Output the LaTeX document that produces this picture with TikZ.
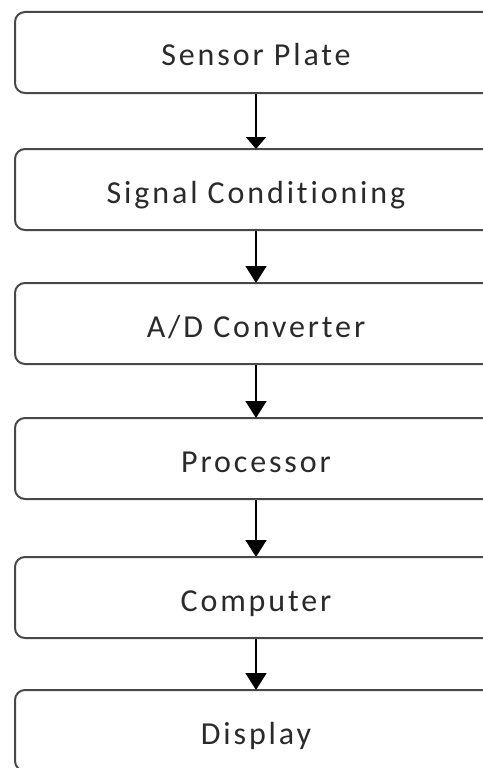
\documentclass[tikz,border=0pt]{standalone}
\usepackage{fontspec}
\setmainfont[LetterSpace=9,Ligatures=NoCommon]{Carlito}
\usetikzlibrary{arrows.meta}
\definecolor{boxline}{HTML}{484848}
\definecolor{txt}{HTML}{2A2A2A}
\tikzset{
  stage/.style={draw=boxline, line width=2pt, rounded corners=10pt,
    minimum width=482pt, minimum height=81pt, inner sep=0pt,
    text height=27pt, text depth=0pt, text=txt,
    font=\fontsize{32pt}{34pt}\selectfont},
  flow/.style={line width=1.6pt, black,
    -{Triangle[width=21pt,length=17pt]}, shorten >=-1pt}
}
\begin{document}
\begin{tikzpicture}[x=1pt,y=-1pt]
\useasboundingbox (0,0) rectangle (482,768);
\node[stage] (s1) at (256,52.5) {Sensor Plate};
\node[stage] (s2) at (256,189.5) {Signal Conditioning};
\node[stage] (s3) at (256,323.5) {A/D Converter};
\node[stage] (s4) at (256,458.5) {Processor};
\node[stage] (s5) at (256,597.5) {Computer};
\node[stage] (s6) at (256,730.5) {Display};
\draw[flow, -{Triangle[width=20pt,length=12pt]}] (s1.south) -- (s2.north);
\draw[flow] (s2.south) -- (s3.north);
\draw[flow] (s3.south) -- (s4.north);
\draw[flow] (s4.south) -- (s5.north);
\draw[flow] (s5.south) -- (s6.north);
\end{tikzpicture}
\end{document}
